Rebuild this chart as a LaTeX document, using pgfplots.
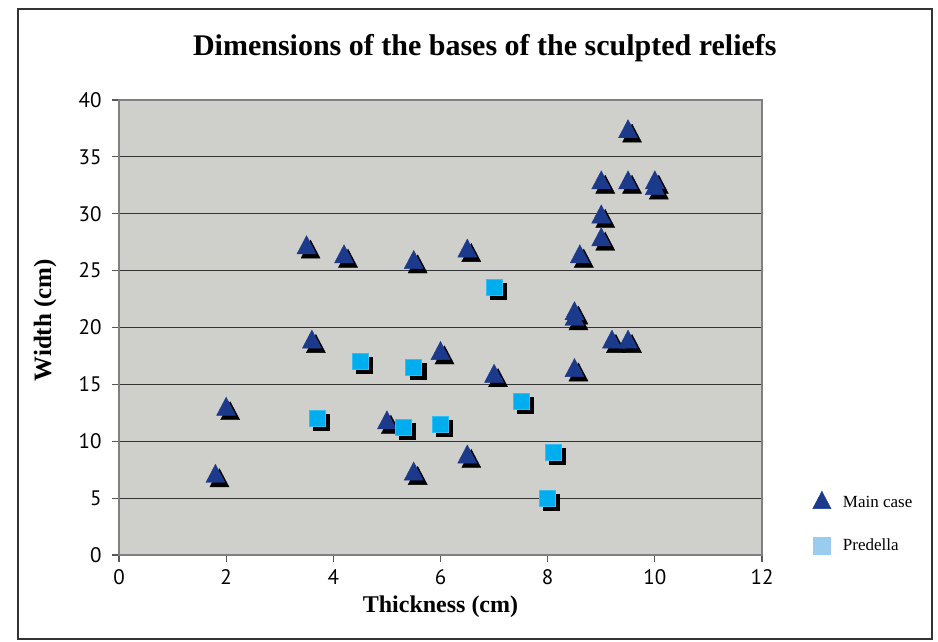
\documentclass[border=0pt]{standalone}
\usepackage{fontspec}
\setmainfont{Liberation Serif}
\setsansfont{PT Sans}
\usepackage{pgfplots}
\pgfplotsset{compat=1.18}
\definecolor{navy}{HTML}{1B3A8C}
\definecolor{cyanbox}{HTML}{00AEEF}
\definecolor{legcyan}{HTML}{99CCEE}
\definecolor{plotbg}{HTML}{CFCFCB}

\pgfplotstableread{
x y
1.8 7.2
2.0 13.1
3.5 27.3
3.6 19.0
4.2 26.5
5.0 11.9
5.5 26.0
5.5 7.4
6.0 18.0
6.5 8.9
6.5 27.0
7.0 16.0
8.5 21.5
8.5 21.0
8.5 16.5
8.6 26.5
9.0 28.0
9.0 30.0
9.0 33.0
9.5 33.0
9.5 37.5
10.0 33.0
10.0 32.5
9.2 19.0
9.5 19.0
}\maincase

\pgfplotstableread{
x y
3.7 12.0
4.5 17.0
5.3 11.2
5.5 16.5
6.0 11.5
7.0 23.5
7.5 13.5
8.1 9.0
8.0 5.0
}\predella

\begin{document}
\begin{tikzpicture}
\useasboundingbox (-119pt,-86pt) rectangle (819pt,555pt);
\draw[line width=1.2pt, color=black!80] (-101pt,-84pt) rectangle (813pt,546pt);
\begin{axis}[
  at={(0pt,0pt)}, anchor=south west,
  scale only axis, width=643pt, height=455pt,
  xmin=0, xmax=12, ymin=0, ymax=40,
  xtick={0,2,...,12}, ytick={0,5,...,40},
  axis background/.style={fill=plotbg},
  axis line style={draw=black!50, line width=1.2pt},
  ymajorgrids, grid style={draw=black!80, line width=1.1pt},
  tick align=outside, tick pos=left, major tick length=7pt,
  tick style={draw=black!65, line width=1.2pt},
  ticklabel style={font=\sffamily\fontsize{21}{23}\selectfont},
  xticklabel style={yshift=-4pt},
  yticklabel style={xshift=-7pt},
  /pgf/number format/assume math mode=true,
  title={Dimensions of the bases of the sculpted reliefs},
  title style={at={(axis description cs:0.569,1.10)}, anchor=center, font=\fontsize{30}{32}\selectfont\bfseries},
  xlabel={Thickness (cm)},
  xlabel style={at={(axis description cs:0.5,-0.114)}, anchor=center, font=\fontsize{24}{26}\selectfont\bfseries},
  ylabel={Width (cm)},
  ylabel style={at={(axis description cs:-0.115,0.516)}, anchor=center, font=\fontsize{25}{27}\selectfont\bfseries},
  legend style={draw=none, fill=none, at={(rel axis cs:1.074,0.145)}, anchor=north west,
    font=\fontsize{17}{19}\selectfont, row sep=26pt, legend cell align=left,
    /tikz/every odd column/.append style={column sep=10pt}},
]
\addplot[only marks, mark=triangle*, mark size=11pt, mark options={fill=black, draw=black, yscale=1.1, xshift=4pt, yshift=-7pt}, forget plot] table[x=x,y=y] {\maincase};
\addplot[only marks, mark=triangle*, mark size=11pt, mark options={fill=navy, draw=navy, yscale=1.1, yshift=-3pt}, forget plot] table[x=x,y=y] {\maincase};
\addplot[only marks, mark=square*, mark size=8pt, mark options={fill=black, draw=black, xshift=4pt, yshift=-4pt}, forget plot] table[x=x,y=y] {\predella};
\addplot[only marks, mark=square*, mark size=8pt, mark options={fill=cyanbox, draw=cyanbox!80!white, line width=0.5pt}, forget plot] table[x=x,y=y] {\predella};
\addlegendimage{only marks, mark=triangle*, mark size=10.5pt, mark options={fill=navy, draw=navy, yscale=1.1}}
\addlegendentry{Main case}
\addlegendimage{only marks, mark=square*, mark size=8.5pt, mark options={fill=legcyan, draw=legcyan}}
\addlegendentry{Predella}
\end{axis}
\end{tikzpicture}
\end{document}
